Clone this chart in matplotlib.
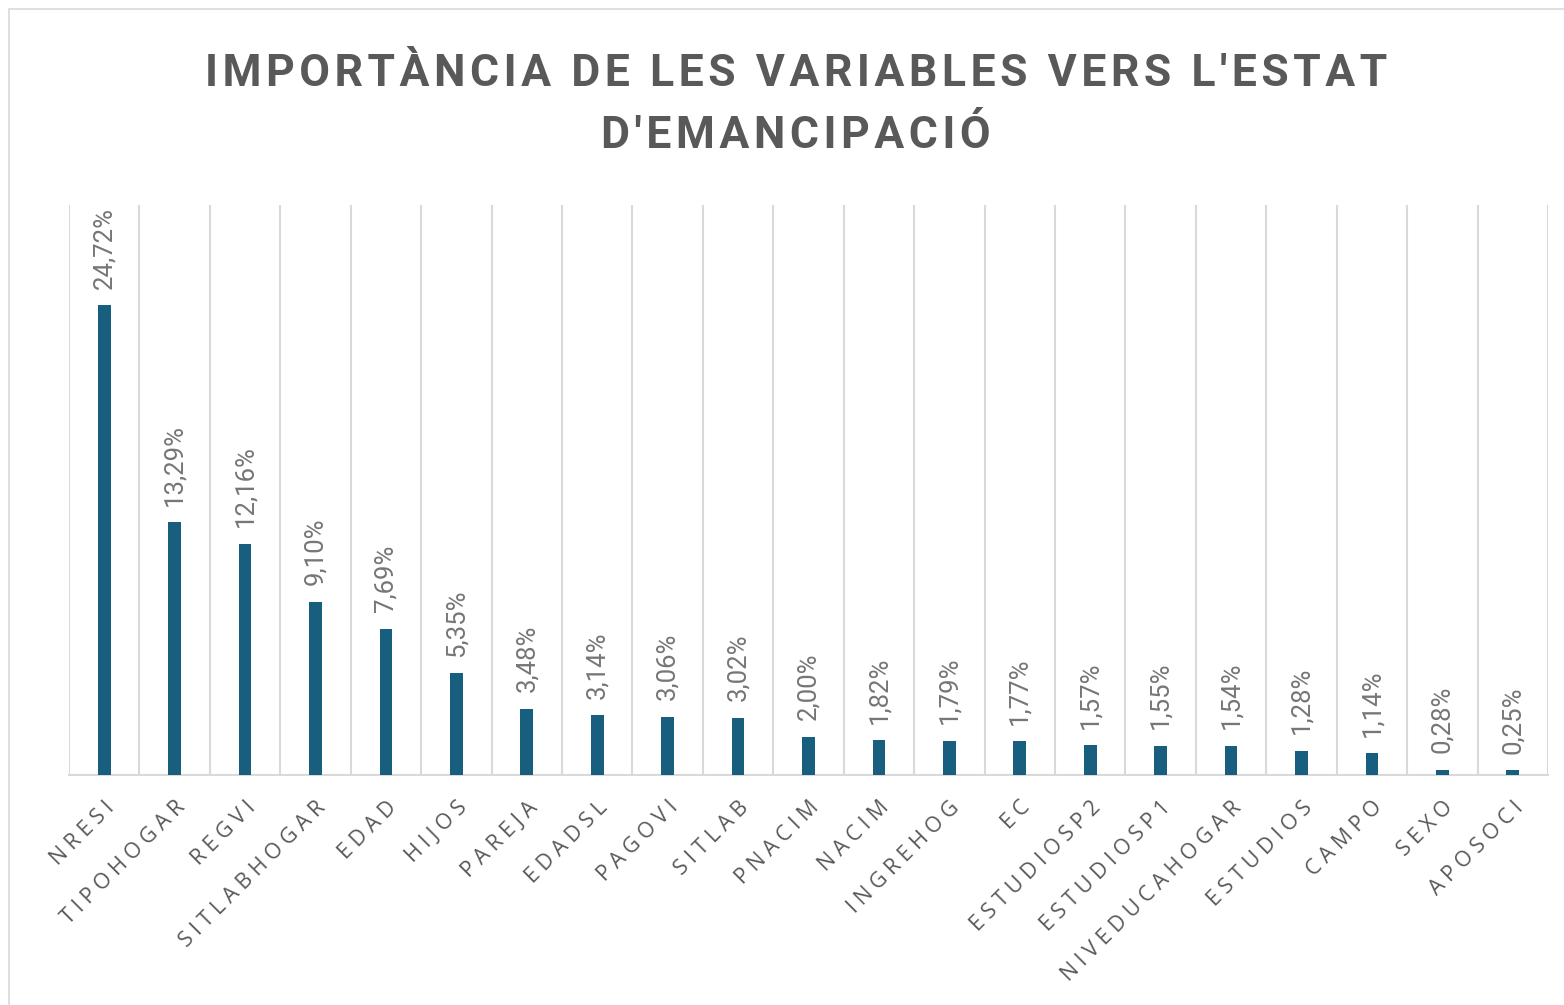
import matplotlib.pyplot as plt
from matplotlib.patches import Rectangle


variables = [
    "NRESI", "TIPOHOGAR", "REGVI", "SITLABHOGAR", "EDAD", "HIJOS",
    "PAREJA", "EDADSL", "PAGOVI", "SITLAB", "PNACIM", "NACIM",
    "INGREHOG", "EC", "ESTUDIOSP2", "ESTUDIOSP1", "NIVEDUCAHOGAR",
    "ESTUDIOS", "CAMPO", "SEXO", "APOSOCI",
]

importance = [
    24.72, 13.29, 12.16, 9.10, 7.69, 5.35,
    3.48, 3.14, 3.06, 3.02, 2.00, 1.82,
    1.79, 1.77, 1.57, 1.55, 1.54,
    1.28, 1.14, 0.28, 0.25,
]

title_lines = [
    "IMPORTÀNCIA DE LES VARIABLES VERS L'ESTAT",
    "D'EMANCIPACIÓ",
]

BAR_COLOR = "#175E7F"
GRID_COLOR = "#D9D9D9"
TEXT_COLOR = "#595959"
LABEL_COLOR = "#767676"


def spaced(text, gap):
    # fake letter spacing with unicode space characters
    return gap.join(text)


fig = plt.figure(figsize=(15.64, 10.05), dpi=100)

fig.patches.append(
    Rectangle(
        (9 / 1564, -0.1),
        1.2,
        1.1 - 9 / 1005,
        transform=fig.transFigure,
        fill=False,
        edgecolor=GRID_COLOR,
        linewidth=1.2,
    )
)

ax = fig.add_axes([69 / 1564, 1 - 775 / 1005, 1479 / 1564, 570 / 1005])

positions = list(range(len(variables)))

ax.bar(
    positions,
    importance,
    width=0.18,
    color=BAR_COLOR,
    zorder=3,
)

for x, value in zip(positions, importance):
    ax.annotate(
        f"{value:.2f}%".replace(".", ","),
        xy=(x, value),
        xytext=(0, 12),
        textcoords="offset points",
        rotation=90,
        ha="center",
        va="bottom",
        fontsize=18.5,
        color=LABEL_COLOR,
        family=["Roboto", "DejaVu Sans"],
    )

ax.set_xlim(-0.5, len(variables) - 0.5)
ax.set_ylim(0, 30)

# vertical gridlines on category boundaries
for b in range(len(variables) + 1):
    ax.axvline(b - 0.5, color=GRID_COLOR, linewidth=1.5, zorder=1)

for side in ["top", "right", "left"]:
    ax.spines[side].set_visible(False)

ax.spines["bottom"].set_color(GRID_COLOR)
ax.spines["bottom"].set_linewidth(1.5)

ax.set_yticks([])
ax.set_xticks(positions)
ax.set_xticklabels(
    [spaced(v, "\u2005") for v in variables],
    rotation=45,
    ha="right",
    rotation_mode="anchor",
    fontsize=15.5,
    color=TEXT_COLOR,
    family=["Open Sans", "DejaVu Sans"],
)
ax.tick_params(axis="x", length=0, pad=16)

for i, line in enumerate(title_lines):
    fig.text(
        0.509, 1 - (86 + 62 * i) / 1005,
        spaced(line, "\u200a"),
        ha="center", va="baseline",
        fontsize=32, fontweight="bold",
        color=TEXT_COLOR,
        family=["Roboto", "DejaVu Sans"],
    )

plt.savefig("out.png", dpi=100)

plt.close()
